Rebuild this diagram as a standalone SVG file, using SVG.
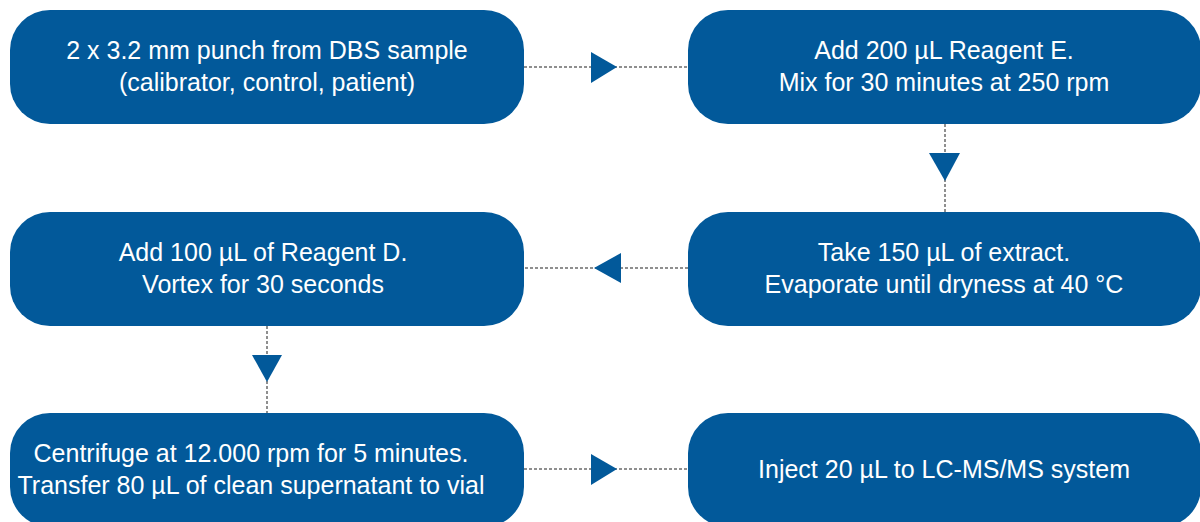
<svg xmlns="http://www.w3.org/2000/svg" width="1200" height="522" viewBox="0 0 1200 522">
<style>
.box{fill:#02599a}
.t{fill:#ffffff;font-family:"Liberation Sans",Arial,sans-serif;font-size:25px;text-anchor:middle}
.c{stroke:#6b6b6b;stroke-width:1.5;stroke-dasharray:3 2;fill:none}
.a{fill:#02599a}
</style>
<rect width="1200" height="522" fill="#ffffff"/>
<g id="connectors">
<line class="c" x1="524" y1="67" x2="688" y2="67"/>
<polygon class="a" points="591,52 617,67 591,83"/>
<line class="c" x1="945" y1="124" x2="945" y2="212"/>
<polygon class="a" points="929,153 960,153 945,181"/>
<line class="c" x1="688" y1="268" x2="524" y2="268"/>
<polygon class="a" points="621,253 621,283 594,268"/>
<line class="c" x1="267" y1="326" x2="267" y2="413"/>
<polygon class="a" points="252,355 282,355 267,382"/>
<line class="c" x1="524" y1="469" x2="688" y2="469"/>
<polygon class="a" points="591,454 617,469 591,485"/>
</g>
<g id="n1">
<rect class="box" x="10" y="10" width="514" height="114" rx="40"/>
<text class="t" x="267" y="59">2 x 3.2 mm punch from DBS sample</text>
<text class="t" x="267" y="91">(calibrator, control, patient)</text>
</g>
<g id="n2">
<rect class="box" x="688" y="10" width="513" height="114" rx="40"/>
<text class="t" x="944" y="59">Add 200 µL Reagent E.</text>
<text class="t" x="944" y="91">Mix for 30 minutes at 250 rpm</text>
</g>
<g id="n3">
<rect class="box" x="688" y="212" width="513" height="114" rx="40"/>
<text class="t" x="944" y="261">Take 150 µL of extract.</text>
<text class="t" x="944" y="293">Evaporate until dryness at 40 °C</text>
</g>
<g id="n4">
<rect class="box" x="10" y="212" width="514" height="114" rx="40"/>
<text class="t" x="263" y="261">Add 100 µL of Reagent D.</text>
<text class="t" x="263" y="293">Vortex for 30 seconds</text>
</g>
<g id="n5">
<rect class="box" x="10" y="413" width="514" height="114" rx="40"/>
<text class="t" x="251" y="462">Centrifuge at 12.000 rpm for 5 minutes.</text>
<text class="t" x="251" y="494">Transfer 80 µL of clean supernatant to vial</text>
</g>
<g id="n6">
<rect class="box" x="688" y="413" width="513" height="114" rx="40"/>
<text class="t" x="944" y="478">Inject 20 µL to LC-MS/MS system</text>
</g>
</svg>
